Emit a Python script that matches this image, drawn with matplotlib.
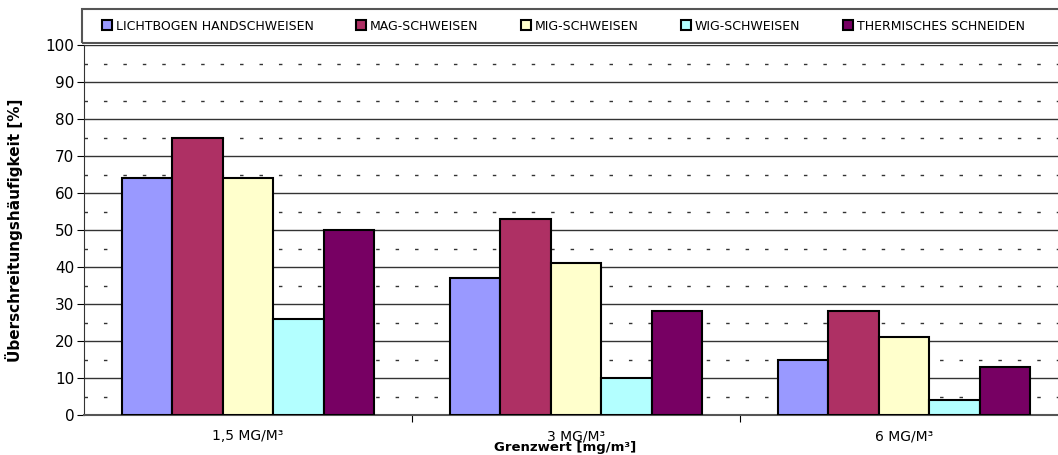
import numpy as np
import matplotlib.pyplot as plt
from matplotlib.patches import Rectangle

# Daten
kategorien = ['1,5 MG/M³', '3 MG/M³', '6 MG/M³']
verfahren = ['LICHTBOGEN HANDSCHWEISEN', 'MAG-SCHWEISEN', 'MIG-SCHWEISEN',
             'WIG-SCHWEISEN', 'THERMISCHES SCHNEIDEN']
lichtbogen = [64, 37, 15]
mag = [75, 53, 28]
mig = [64, 41, 21]
wig = [26, 10, 4]
thermisch = [50, 28, 13]

werte = [lichtbogen, mag, mig, wig, thermisch]
farben = ['#9999FF', '#AE3064', '#FFFFCC', '#B3FFFF', '#770063']

fig = plt.figure(figsize=(10.58, 4.55), dpi=100)
ax = fig.add_axes([84 / 1058, 1 - 415 / 455, 984 / 1058, 370 / 455])

x = np.arange(len(kategorien))
w = 0.1537
for i, (reihe, farbe) in enumerate(zip(werte, farben)):
    ax.bar(x + (i - 2) * w, reihe, w, color=farbe, edgecolor='black',
           linewidth=1.5, label=verfahren[i], zorder=3)

ax.set_xlim(-0.5, 2.5)
ax.set_ylim(0, 100)
ax.set_yticks(np.arange(0, 101, 10))
ax.set_yticks(np.arange(5, 100, 10), minor=True)
ax.grid(axis='y', which='major', color='#333333', linewidth=1, zorder=1)
ax.grid(axis='y', which='minor', color='#333333', linewidth=1,
        linestyle=(0, (2.5, 11.5)), zorder=1)
ax.set_axisbelow(True)
ax.tick_params(axis='y', which='minor', length=0)
ax.tick_params(axis='y', which='major', direction='out', length=5,
               labelsize=11, pad=2)

# Kategorien-Beschriftung und Trennstriche
ax.set_xticks([0.5, 1.5])
ax.set_xticklabels([])
ax.tick_params(axis='x', direction='out', length=5)
for xi, lab in zip(x, kategorien):
    ax.text(xi, -3.8, lab, ha='center', va='top', fontsize=10)

for s in ['top', 'right']:
    ax.spines[s].set_visible(False)
ax.spines['left'].set_color('#333333')
ax.spines['bottom'].set_color('#555555')
ax.spines['bottom'].set_linewidth(1.5)

ax.set_ylabel('Überschreitungshäufigkeit [%]', fontsize=11, fontweight='bold')
ax.yaxis.set_label_coords(-0.062, 0.5)
fig.text(565 / 1058, 1 - 448 / 455, 'Grenzwert [mg/m³]', ha='center',
         va='center', fontsize=9.5, fontweight='bold')

# Legende mit eigenem Rahmen
fig.patches.append(Rectangle((82 / 1058, 1 - 43 / 455), 1, 34 / 455,
                             transform=fig.transFigure, fill=False,
                             edgecolor='#555555', linewidth=1.5))
fig.legend(loc='center left', bbox_to_anchor=(91 / 1058, 1 - 26 / 455),
           ncol=5, frameon=False, fontsize=9, handlelength=0.8,
           handleheight=0.8, handletextpad=0.3, columnspacing=3.4)

fig.savefig('out.png', dpi=100)
